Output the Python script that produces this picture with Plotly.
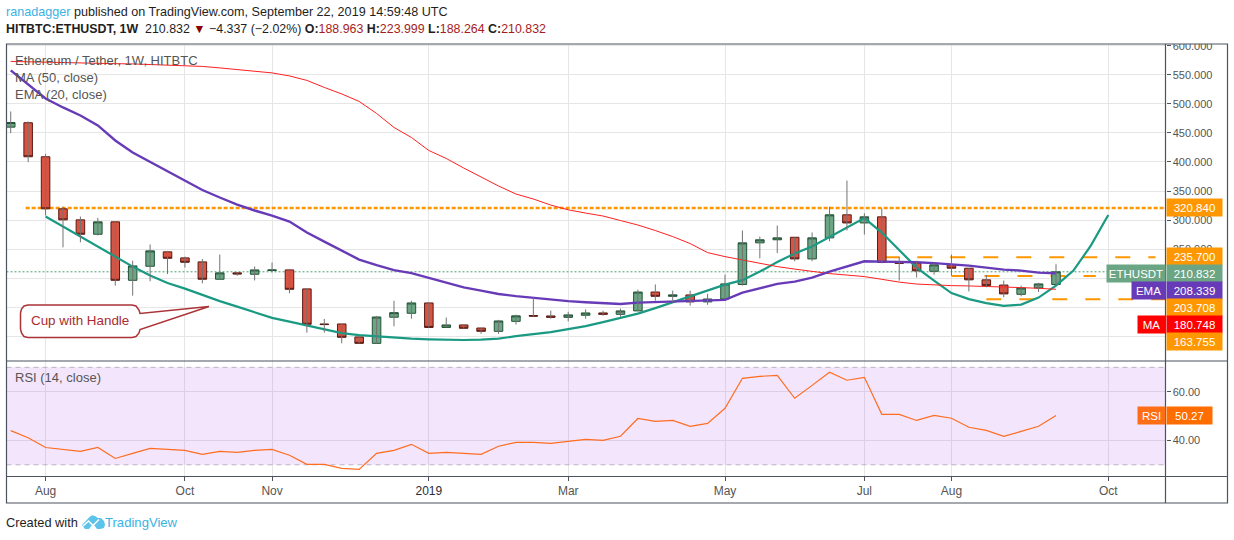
import pandas as pd
import plotly.graph_objects as go
from plotly.subplots import make_subplots

W, H = 1234, 540
FONT = "Liberation Sans"

# weekly candles, HITBTC ETHUSDT
first_week = "2018-07-23"
opens = [460, 467.6, 409, 319.3, 300.3, 275.5, 296.9, 196.2, 220.4, 245.2, 234.8, 227.9, 198, 209, 206.6, 213, 214.1,
         181.4, 121, 121, 98.6, 87.6, 132.6, 139.4, 157.2, 115, 119.3, 114, 108.3, 125.5, 135.5, 134.8, 132.4, 136,
         140, 137.6, 143.5, 176, 168.6, 171, 159, 164, 189, 260.7, 266, 270.3, 233, 269.3, 309, 295, 305.5, 227, 226,
         211.7, 223, 217, 197, 188, 172, 183, 188.963]
closes = [468, 409, 319.3, 300.3, 275.5, 296.9, 196.2, 221, 246.9, 234.1, 227.2, 198, 209, 207.2, 214.1, 214, 180.7,
          120.4, 120, 98, 87.6, 133, 140.5, 157.2, 115, 119.3, 113.5, 108.3, 126.2, 135, 134.5, 132.4, 136.6, 140,
          137.6, 143.5, 176, 168.6, 171, 159, 164, 190, 260.7, 266, 269.3, 233, 269.3, 309, 295, 305.5, 227, 225.5,
          212.4, 222.8, 217, 197, 187, 172.8, 183, 190, 210.832]
highs = [487, 469.8, 414, 323, 306, 303.8, 297, 230, 257.8, 246.9, 237, 233, 240.5, 210, 220, 226.7, 216, 181.4, 129.6,
         121, 100.4, 134.8, 161, 161, 157.2, 132, 120.5, 114, 128, 137, 167, 144, 142, 146, 144, 147.5, 180, 189,
         178.5, 178.5, 173, 206, 282, 271.5, 290.5, 270.3, 278.5, 323, 368, 311.7, 320, 237, 230, 226, 240.5, 217,
         205.5, 195.7, 187, 192, 223.999]
lows = [449.6, 399.6, 307.8, 253, 261.7, 273.3, 187, 169.8, 194.5, 207, 218, 191, 198, 204, 196, 210, 173.8, 106, 106,
        87.6, 87.6, 87.6, 117, 130, 115, 115, 113.5, 104, 104, 120, 134, 130, 125.5, 130, 135, 133.5, 143, 161, 158,
        152.6, 154, 164, 187, 234, 243, 229, 229, 263.5, 282, 275, 225.5, 195.7, 201, 206, 204, 177, 184, 167, 168.6,
        176, 188.264]

ma_line = [557.7, 533.6, 509.4, 493.9, 480.1, 462.9, 437, 416.4, 400, 383.6, 368.1, 351.7, 338.8, 326.7, 316.4, 307.7,
           297.4, 278.4, 262.9, 247.4, 231.9, 222.4, 213.8, 208.6, 200.8, 192.2, 184.1, 178.4, 172.7, 169, 165.9,
           162.4, 160.3, 158.3, 156.9, 155.5, 157.8, 158.6, 159.5, 160, 161.2, 162.4, 175, 182.8, 190, 194, 200.8,
           211.2, 220.7, 229, 228.4, 228.4, 227.2, 225.8, 224.1, 221.5, 218.1, 214.6, 212.9, 209.5, 208.339]
ema_line = [573.2, 572.4, 571.5, 571, 570.3, 569.8, 569.3, 568.9, 568.1, 567.2, 566.3, 564.6, 562, 559.4, 556.9, 553.4,
            548.2, 540.5, 528.4, 517.2, 504.3, 483.6, 459.4, 442.2, 419.8, 406, 389.6, 374.1, 358.6, 344.8, 336.2,
            325.8, 317.6, 312, 306.9, 299.1, 291.4, 281.9, 271.5, 259.5, 243.9, 237, 231, 225, 219.8, 215.5, 211.2,
            207.7, 205.2, 202.6, 197.9, 193.1, 189.7, 187.9, 187, 186.5, 185.8, 185.3, 183.6, 182.4, 180.748]
# hand drawn cup and handle, starts on the third week and runs past the last candle
cup_line = [306, 288.8, 271.5, 254.3, 237, 219.8, 204.3, 191.4, 181.9, 170.7, 160.3, 150.9, 141.4, 131.4, 125, 118.1,
            111.2, 105.2, 101.7, 99.6, 97.4, 95.7, 94.5, 93.6, 93.4, 93.9, 95.7, 100, 103.4, 106.9, 112, 117.2, 124.1,
            131, 138.8, 148.3, 158.3, 168.1, 178.4, 188.8, 196.5, 211.2, 227.6, 242.2, 254.3, 270.7, 287, 303.4,
            278.4, 247.4, 218.1, 195.7, 174.1, 163.8, 156.9, 152.1, 154.3, 166.4, 187, 212.9, 256, 308.6]
rsi = [44, 41.1, 37.1, 36.3, 35.5, 37.1, 32.6, 34.7, 36.7, 36.3, 35.9, 34.3, 35.5, 35.1, 35.9, 36.3, 33.9, 30.2, 30.2,
       28.5, 28.1, 34.7, 35.9, 38.4, 34.7, 35.1, 34.7, 34.3, 37.6, 39.2, 39.2, 38.8, 39.6, 40.4, 40, 41.7, 49, 47.8,
       48.2, 45.8, 47, 53.2, 65.5, 66.3, 66.7, 57.3, 62.6, 68, 64.7, 65.9, 50.7, 50.7, 48.2, 50.3, 49.1, 45.4, 44.1,
       41.7, 43.7, 45.8, 50.27]

resistance = 320.84
levels = [235.7, 203.708, 163.755]
month_ticks = ["2018-08-06", "2018-10-01", "2018-11-05", "2019-01-07", "2019-03-04", "2019-05-06", "2019-07-01",
               "2019-08-05", "2019-10-07"]
month_labels = ["Aug", "Oct", "Nov", '<span style="color:#2a2e39">2019</span>', "Mar", "May", "Jul", "Aug", "Oct"]
price_ticks = [100, 150, 200, 250, 300, 350, 400, 450, 500, 550, 600]
# 100, 150 and 200 are covered by the price tags in the original
price_labels = ["", "", "", "250.000", "300.000", "350.000", "400.000", "450.000", "500.000", "550.000", "600.000"]
rsi_ticks = [40, 60]

weeks = pd.date_range(first_week, periods=64, freq="7D")
dates = weeks[:len(closes)]
x_start = weeks[0] - pd.Timedelta(days=1.7)
x_end = weeks[0] + pd.Timedelta(days=464)


def px(x):
    return x / W


def py(y):
    return 1 - y / H


fig = make_subplots(rows=2, cols=1, shared_xaxes=True)

# moving averages and the drawing sit behind the candles
fig.add_trace(go.Scatter(x=weeks[2:2 + len(cup_line)], y=cup_line, mode="lines", line=dict(color="#1a9a83", width=2.2)), row=1, col=1)
fig.add_trace(go.Scatter(x=dates, y=ema_line, mode="lines", line=dict(color="#ff2020", width=1)), row=1, col=1)
fig.add_trace(go.Scatter(x=dates, y=ma_line, mode="lines", line=dict(color="#673ab7", width=2.4)), row=1, col=1)

wick_x, wick_y = [], []
for d, lo, hi in zip(dates, lows, highs):
    wick_x += [d, d, None]
    wick_y += [lo, hi, None]
fig.add_trace(go.Scatter(x=wick_x, y=wick_y, mode="lines", line=dict(color="#737375", width=1)), row=1, col=1)

# wicks are grey in the original and the border is dark, so the candle trace only draws bodies
body_hi = [max(o, c) for o, c in zip(opens, closes)]
body_lo = [min(o, c) for o, c in zip(opens, closes)]
fig.add_trace(go.Candlestick(x=dates, open=opens, high=body_hi, low=body_lo, close=closes,
                             increasing=dict(fillcolor="#6ba583", line=dict(color="#225437", width=1)),
                             decreasing=dict(fillcolor="#d75442", line=dict(color="#5b1a13", width=1))), row=1, col=1)

fig.add_trace(go.Scatter(x=dates, y=rsi, mode="lines", line=dict(color="#ff6d20", width=1.2)), row=2, col=1)

axis_color = "#4c525e"
grid = "#e6e6e6"
fig.update_xaxes(range=[x_start, x_end], domain=[px(6.5), px(1165.5)], tickvals=month_ticks, ticktext=month_labels,
                 showgrid=True, gridcolor=grid, gridwidth=1, zeroline=False, rangeslider_visible=False,
                 tickfont=dict(family=FONT, size=12, color="#555"))
fig.update_xaxes(showticklabels=False, ticks="", row=1, col=1)
fig.update_xaxes(ticks="outside", ticklen=4, tickcolor=axis_color, row=2, col=1)
fig.update_yaxes(side="right", showgrid=True, gridcolor=grid, gridwidth=1, zeroline=False, ticks="outside", ticklen=4,
                 tickcolor=axis_color, tickfont=dict(family=FONT, size=11, color="#555"))
fig.update_yaxes(range=[57.2, 603.2], domain=[py(361), py(44)], tickvals=price_ticks, ticktext=price_labels, row=1, col=1)
fig.update_yaxes(range=[25.4, 72.6], domain=[py(476), py(361)], tickvals=rsi_ticks, tickformat=".2f", row=2, col=1)

shapes = []
# RSI band
shapes.append(dict(type="rect", xref="x2", yref="y2", x0=x_start, x1=x_end, y0=30, y1=70, line_width=0,
                   fillcolor="rgba(155,38,230,0.12)", layer="between"))
for v in [70, 30]:
    shapes.append(dict(type="line", xref="x2", yref="y2", x0=x_start, x1=x_end, y0=v, y1=v, layer="between",
                       line=dict(color="#bdb0c6", width=1, dash="5px,4px")))
# horizontal levels
shapes.append(dict(type="line", xref="x", yref="y", x0=weeks[1] - pd.Timedelta(days=1), x1=x_end, y0=resistance, y1=resistance,
                   layer="between", line=dict(color="#ff9800", width=2.5, dash="4px,2px")))
level_spans = [(weeks[50] + pd.Timedelta(days=1), weeks[0] + pd.Timedelta(days=460)),
               (weeks[54], weeks[62] + pd.Timedelta(days=2)),
               (weeks[56], x_end)]
for lv, (a, b) in zip(levels, level_spans):
    shapes.append(dict(type="line", xref="x", yref="y", x0=a, x1=b, y0=lv, y1=lv, layer="between",
                       line=dict(color="#ff9800", width=2, dash="15px,18px")))
shapes.append(dict(type="line", xref="x", yref="y", x0=x_start, x1=x_end, y0=closes[-1], y1=closes[-1], layer="between",
                   line=dict(color="#4a9d71", width=1, dash="2px,2px")))


def pline(points, close=True):
    s = "M" + " L".join(f"{px(a):.5f},{py(b):.5f}" for a, b in points)
    return s + (" Z" if close else "")


# mask the top of the clipped 600 label
shapes.append(dict(type="rect", xref="paper", yref="paper", x0=px(1167), x1=px(1226), y0=py(44), y1=py(36), fillcolor="white", line_width=0))
# chart frame
shapes.append(dict(type="rect", xref="paper", yref="paper", x0=px(6.5), x1=px(1227.5), y0=py(503), y1=py(44), line=dict(color=axis_color, width=1.2)))
shapes.append(dict(type="line", xref="paper", yref="paper", x0=px(6.5), x1=px(1227.5), y0=py(361), y1=py(361), line=dict(color=axis_color, width=1.2)))
shapes.append(dict(type="line", xref="paper", yref="paper", x0=px(6.5), x1=px(1227.5), y0=py(476.5), y1=py(476.5), line=dict(color=axis_color, width=1.2)))
shapes.append(dict(type="line", xref="paper", yref="paper", x0=px(1165.5), x1=px(1165.5), y0=py(503), y1=py(44), line=dict(color=axis_color, width=1.2)))

# callout
callout = [(28, 305), (132, 305), (136, 306), (139, 310), (140, 313.5), (209, 306.5), (140, 329.5), (139, 333), (136, 336.5),
           (132, 337.5), (28, 337.5), (24, 336.5), (21.5, 333), (20.5, 329), (20.5, 313), (21.5, 309), (24, 306)]
shapes.append(dict(type="path", xref="paper", yref="paper", path=pline(callout), fillcolor="white",
                   line=dict(color="#ab3338", width=1.5)))

# TradingView logo
logo = [(82, 525), (89.5, 517), (92, 515.3), (95, 516), (98, 518), (101, 518), (104, 521), (105, 524.5), (104, 528), (100, 529),
        (97, 529), (93, 523.5), (89, 529), (85, 529)]
shapes.append(dict(type="path", xref="paper", yref="paper", path=pline(logo), fillcolor="#5cc3ea", line_width=0))
zig = [(83, 526), (88.5, 521), (93, 525.5), (99, 519.5)]
shapes.append(dict(type="path", xref="paper", yref="paper", path=pline(zig, close=False), fillcolor="rgba(0,0,0,0)",
                   line=dict(color="white", width=1.5)))
fig.update_layout(shapes=shapes)


def note(x, y, text, size=13, color="#555", anchor="left", **kw):
    fig.add_annotation(xref="paper", yref="paper", x=px(x), y=py(y), text=text, showarrow=False, xanchor=anchor,
                       yanchor="middle", align=kw.pop("align", anchor), font=dict(family=FONT, size=size, color=color), **kw)


def tag(x, y, w, text, color):
    note(x, y, text, size=11.5, color="white", width=w, height=17, bgcolor=color, borderpad=0, align="center")


red = "#a61c1c"
note(4, 12.5, '<span style="color:#3bb3e4">ranadagger</span> published on TradingView.com, September 22, 2019 14:59:48 UTC',
     size=12.6, color="#1e1e1e")
note(4, 29.5, f'<b>HITBTC:ETHUSDT, 1W</b>  210.832 <span style="color:#8b0000">▼</span> −4.337 (−2.02%) <b>O:</b><span style="color:{red}">188.963</span> '
              f'<b>H:</b><span style="color:{red}">223.999</span> <b>L:</b><span style="color:{red}">188.264</span> '
              f'<b>C:</b><span style="color:{red}">210.832</span>', size=12.4, color="#1e1e1e")
note(13, 60.5, "Ethereum / Tether, 1W, HITBTC")
note(13, 77.5, "MA (50, close)")
note(13, 94.5, "EMA (20, close)")
note(13, 377.5, "RSI (14, close)")
note(29, 320, "Cup with Handle", size=13.4, color="#a82c30")
note(4, 522.5, "Created with", size=12.8, color="#1e1e1e")
note(103, 522.5, "TradingView", size=13.1, color="#3bb3e4")

orange = "#ff9800"
tag(1166, 207.5, 55, "320.840", orange)
tag(1166, 256.5, 55, "235.700", orange)
tag(1166, 273.5, 55, "210.832", "#6ba583")
tag(1106, 273.5, 58, "ETHUSDT", "#6ba583")
tag(1166, 290.5, 55, "208.339", "#673ab7")
tag(1131, 290.5, 33, "EMA", "#673ab7")
tag(1166, 307.5, 55, "203.708", orange)
tag(1166, 324.5, 55, "180.748", "#ff0000")
tag(1137, 324.5, 27, "MA", "#ff0000")
tag(1166, 341.5, 55, "163.755", orange)
tag(1166, 415.5, 45, "50.27", "#ff6d00")
tag(1137, 415.5, 27, "RSI", "#ff6d14")

fig.update_layout(template="none", width=W, height=H, margin=dict(l=0, r=0, t=0, b=0, autoexpand=False), showlegend=False,
                  paper_bgcolor="white", plot_bgcolor="white", hovermode=False)
fig.write_html("out.html", config={"displayModeBar": False},
               post_script="document.body.style.margin='0';document.body.style.overflow='hidden';")
